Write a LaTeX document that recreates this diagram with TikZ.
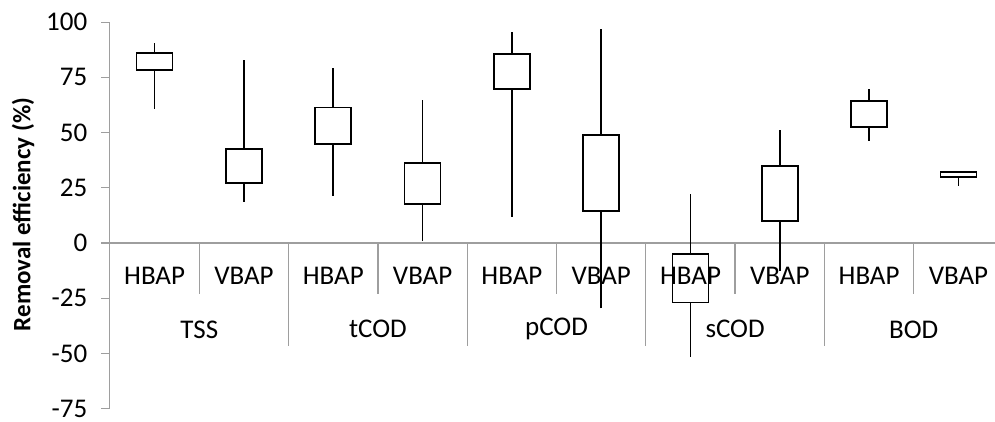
\documentclass[tikz,border=0pt]{standalone}
\usepackage{fontspec}
\setmainfont{Carlito}
\begin{document}
\begin{tikzpicture}[x=1pt,y=1pt,
  axisline/.style={draw=black!38, line width=1.3pt},
  boxline/.style={draw=black, line width=1.7pt},
  lab/.style={font=\fontsize{27}{30}\selectfont, inner sep=0pt, text=black}]
\useasboundingbox (0,0) rectangle (995,421);
\begin{scope}[shift={(0pt,178pt)}, y=2.208pt]
  % axes
  \draw[axisline] (109.7,-75) -- (109.7,100);
  \draw[axisline] (109.7,0) -- (995,0);
  \foreach \v [count=\i] in {-75,-50,-25,0,25,50,75,100} {
    \draw[axisline] (101,\v) -- (109.7,\v);
    \node[lab, anchor=east] (tick\i) at (87.5,\v) {\v};
  }
  % separators
  \foreach \x in {199.3,377.9,556.5,735.1,913.7}
    \draw[axisline] (\x,0) -- (\x,-23.1);
  \foreach \x in {288.6,467.2,645.8,824.4}
    \draw[axisline] (\x,0) -- (\x,-46.5);
  % sub labels
  \foreach \x/\t [count=\i] in {154.6/HBAP,244.0/VBAP,333.3/HBAP,422.6/VBAP,511.9/HBAP,601.2/VBAP,690.5/HBAP,779.8/VBAP,869.1/HBAP,958.4/VBAP}
    \node[lab] (sub\i) at (\x,-14.9) {\t};
  \foreach \x/\t [count=\i] in {199.3/TSS,377.9/tCOD,556.5/pCOD,735.1/sCOD,913.7/BOD}
    \node[lab] (cat\i) at (\x,-39.1) {\t};
  \node[lab, font=\fontsize{25}{28}\selectfont\bfseries, rotate=90] (ylab) at (23,12.9) {Removal efficiency (\%)};
  % boxes
  \foreach \x/\wl/\bl/\bh/\wh in {154.6/60.7/78.2/86.2/90.4, 244.0/18.7/27.2/42.6/82.9,
      333.3/21.4/44.8/61.3/79.4, 422.6/0.8/17.7/36.2/64.8, 511.9/11.9/69.6/85.5/95.4,
      601.2/-29.6/14.6/48.8/96.9, 690.5/-51.5/-26.9/-5.1/22.2, 779.8/-12.5/10.0/34.9/51.0,
      869.1/46.2/52.5/64.4/69.6, 958.4/26.0/29.9/32.2/32.2} {
    \draw[boxline] (\x,\wl) -- (\x,\bl);
    \draw[boxline] (\x,\bh) -- (\x,\wh);
    \draw[boxline] (\x-18,\bl) rectangle (\x+18,\bh);
  }
\end{scope}
\end{tikzpicture}
\end{document}
